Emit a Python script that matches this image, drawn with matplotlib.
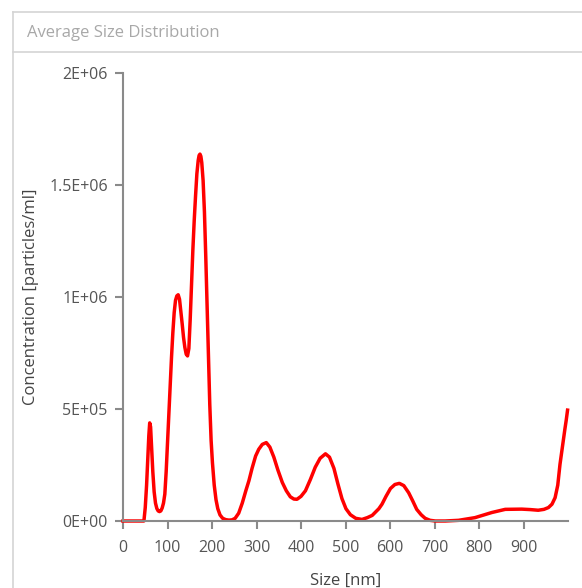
import matplotlib
matplotlib.use("Agg")
import matplotlib.pyplot as plt
from matplotlib.lines import Line2D

# Sizes (nm) and concentrations (particles/ml)
size_nm = [0, 20, 40, 47, 50, 53, 56, 58, 60, 62, 64, 67, 70, 73, 76, 79,
           82, 85, 88, 91, 94, 97, 100, 103, 106, 109, 112, 115, 118, 121,
           124, 127, 130, 133, 136, 139, 142, 145, 148, 151, 154, 157, 160,
           163, 166, 169, 171, 173, 175, 177, 180, 183, 186, 189, 192, 195,
           198, 201, 205, 209, 213, 218, 224, 231, 238, 245, 252, 260, 268,
           276, 283, 290, 298, 305, 313, 322, 330, 339, 348, 358, 367, 376,
           384, 391, 400, 410, 421, 432, 443, 455, 464, 474, 483, 492, 501,
           511, 523, 537, 549, 560, 575, 582, 591, 601, 611, 621, 631, 642,
           651, 660, 670, 679, 690, 702, 724, 754, 791, 829, 859, 896, 915,
           933, 946, 956, 964, 971, 977, 982, 988, 993, 996, 999]
conc = [0, 0, 0, 0, 60e3, 160e3, 290e3, 380e3, 438e3, 420e3, 340e3, 220e3,
        130e3, 80e3, 56e3, 45e3, 42e3, 45e3, 58e3, 80e3, 120e3, 220e3,
        350e3, 480e3, 610e3, 730e3, 840e3, 930e3, 985e3, 1005e3, 1010e3,
        990e3, 935e3, 880e3, 820e3, 775e3, 745e3, 737e3, 770e3, 900e3,
        1060e3, 1210e3, 1340e3, 1450e3, 1550e3, 1610e3, 1632e3, 1638e3,
        1628e3, 1600e3, 1520e3, 1380e3, 1180e3, 960e3, 740e3, 520e3, 360e3,
        260e3, 160e3, 95e3, 55e3, 27e3, 12e3, 6e3, 4e3, 5e3, 12e3, 35e3,
        80e3, 135e3, 180e3, 235e3, 290e3, 320e3, 342e3, 350e3, 330e3, 285e3,
        228e3, 172e3, 135e3, 108e3, 98e3, 97e3, 110e3, 135e3, 185e3, 240e3,
        280e3, 300e3, 285e3, 235e3, 165e3, 100e3, 55e3, 28e3, 12e3, 7e3,
        15e3, 25e3, 55e3, 75e3, 110e3, 145e3, 163e3, 168e3, 158e3, 126e3,
        90e3, 52e3, 28e3, 12e3, 3e3, 0, 0, 3e3, 15e3, 38e3, 52e3, 53e3,
        51e3, 48e3, 52e3, 60e3, 75e3, 104e3, 160e3, 253e3, 340e3, 410e3,
        450e3, 495e3]

x_ticks = [0, 100, 200, 300, 400, 500, 600, 700, 800, 900]
y_ticks = [0, 5e5, 1e6, 1.5e6, 2e6]
y_tick_labels = ["0E+00", "5E+05", "1E+06", "1.5E+06", "2E+06"]

plt.rcParams["font.family"] = ["Open Sans", "DejaVu Sans"]

W, H = 582, 588
fig = plt.figure(figsize=(W / 100, H / 100), dpi=100)

# panel frame with the header strip
border = "#d4d4d4"
fig.add_artist(Line2D([13 / W, 13 / W], [0, 1 - 12 / H], color=border, lw=1.2))
fig.add_artist(Line2D([13 / W, 1], [1 - 12 / H, 1 - 12 / H], color=border, lw=1.2))
fig.add_artist(Line2D([13 / W, 1], [1 - 52 / H, 1 - 52 / H], color=border, lw=1.2))
fig.text(27 / W, 1 - 33 / H, "Average Size Distribution", color="#a8a8a8",
         fontsize=12, va="center", ha="left")

ax = fig.add_axes([123 / W, 1 - 521 / H, (568 - 123) / W, (521 - 73) / H])
ax.plot(size_nm, conc, color="#ff0000", lw=2.5, solid_joinstyle="round",
        clip_on=False)

ax.set_xlim(0, 1000)
ax.set_ylim(0, 2e6)
ax.set_xticks(x_ticks)
ax.set_yticks(y_ticks)
ax.set_yticklabels(y_tick_labels)

for side in ("top", "right"):
    ax.spines[side].set_visible(False)
for side in ("left", "bottom"):
    ax.spines[side].set_color("#8a8a8a")
    ax.spines[side].set_linewidth(1.5)
ax.tick_params(direction="out", length=6, width=1.5, color="#8a8a8a",
               labelcolor="#555555", labelsize=11.5, pad=5)
ax.tick_params(axis="x", pad=8)

ax.set_xlabel("Size [nm]", color="#444444", fontsize=12, labelpad=12)
ax.set_ylabel("Concentration [particles/ml]", color="#444444", fontsize=12,
              labelpad=7)

fig.savefig("out.png", dpi=100)
